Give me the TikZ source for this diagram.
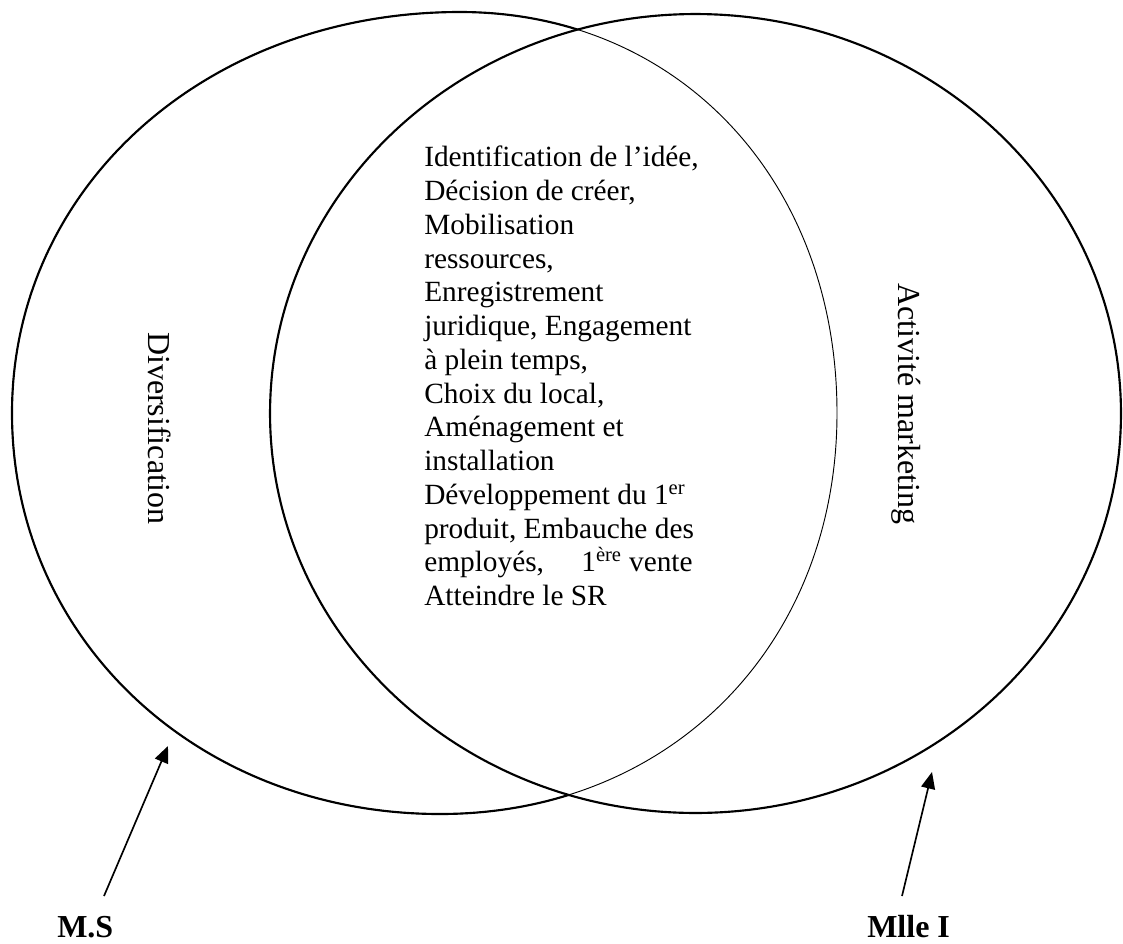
\documentclass[tikz,border=0pt]{standalone}
\usepackage{fontspec}
\setmainfont{Liberation Serif}
\usetikzlibrary{arrows.meta}
\newcommand{\leftovalpath}{(837,413) .. controls (837,180.4) and (678.7,12) .. (460,12)
  .. controls (206.9,12) and (12,186.4) .. (12,413)
  .. controls (12,639.6) and (198.2,814) .. (440,814)
  .. controls (670,814) and (837,645.6) .. (837,413) -- cycle}
\begin{document}
\begin{tikzpicture}[x=0.75pt,y=-0.75pt,
  thickline/.style={line width=1.6pt},
  thinline/.style={line width=0.7pt},
  pointer/.style={line width=1.25pt,-{Triangle[length=12.5pt,width=10.5pt]}},
  sidelabel/.style={font=\fontsize{24}{28}\selectfont, rotate=-90, inner sep=0pt},
  person/.style={font=\fontsize{24}{28}\selectfont\bfseries, anchor=base west, inner sep=0pt},
  steptext/.style={anchor=north west, align=left, inner sep=0pt, font=\fontsize{22}{25.3}\selectfont}]
\useasboundingbox (0,0) rectangle (1123,943);
% left oval: thin everywhere, thick outside the right ellipse
\draw[thinline] \leftovalpath;
\begin{scope}[even odd rule]
  \clip (-20,-20) rectangle (1143,963)
    (695.5,413.5) ellipse [x radius=319.1pt, y radius=299.6pt];
  \draw[thickline] \leftovalpath;
\end{scope}
% right ellipse
\draw[thickline] (695.5,413.5) ellipse [x radius=319.1pt, y radius=299.6pt];

\node[sidelabel] (div) at (160,428) {Diversification};
\node[sidelabel] (act) at (906,404) {Activité marketing};

\node[steptext] (steps) at (424,146) {Identification de l’idée,\\
Décision de créer,\\
Mobilisation\\
ressources,\\
Enregistrement\\
juridique, Engagement\\
à plein temps,\\
Choix du local,\\
Aménagement et\\
installation\\
Développement du 1\textsuperscript{er}\\
produit, Embauche des\\
employés,\hspace*{28pt}1\textsuperscript{ère} vente\\
Atteindre le SR};

\node[person] (ms) at (57,937) {M.S};
\node[person] (mlle) at (867,937) {Mlle I};

\coordinate (msTail) at (104,896);
\coordinate (msTip) at (168,746);
\coordinate (mlleTail) at (902,896);
\coordinate (mlleTip) at (932,772);
\draw[pointer] (msTail) -- (msTip);
\draw[pointer] (mlleTail) -- (mlleTip);
\end{tikzpicture}
\end{document}
